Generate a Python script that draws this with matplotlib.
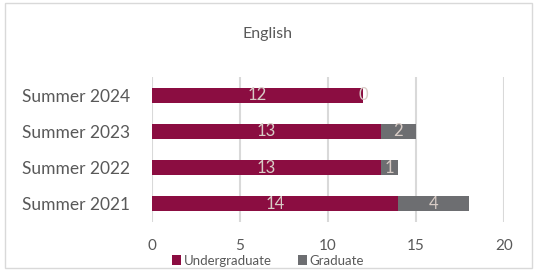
import matplotlib.pyplot as plt
from matplotlib.patches import Rectangle
import numpy as np

plt.rcParams['font.family'] = ['Lato', 'DejaVu Sans']

terms = ['Summer 2021', 'Summer 2022', 'Summer 2023', 'Summer 2024']
undergrad = [14, 13, 13, 12]
graduate = [4, 1, 2, 0]

c_ug = '#8B0D41'
c_gr = '#6D6E71'
lbl = '#D8CCC6'
txt = '#595959'

fig = plt.figure(figsize=(5.36, 2.70), dpi=100)
fig.patches.append(Rectangle((0.009, 0.008), 0.983, 0.98, transform=fig.transFigure,
                             fill=False, edgecolor='#D9D9D9', linewidth=1))
ax = fig.add_axes([0.2836, 0.1778, 0.6567, 0.537])

y = np.arange(len(terms))
b1 = ax.barh(y, undergrad, height=0.41, color=c_ug, zorder=3)
b2 = ax.barh(y, graduate, left=undergrad, height=0.41, color=c_gr, zorder=3)
ax.bar_label(b1, label_type='center', color=lbl, fontsize=12)
ax.bar_label(b2, label_type='center', color=lbl, fontsize=12)

ax.set_xlim(0, 20)
ax.set_ylim(-0.5, 3.5)
ax.set_xticks([0, 5, 10, 15, 20])
ax.set_yticks(y)
ax.set_yticklabels(terms)
ax.tick_params(axis='y', length=0, labelsize=12.5, labelcolor=txt, pad=16)
ax.tick_params(axis='x', length=0, labelsize=11, labelcolor=txt, pad=12)
ax.grid(axis='x', color='#D9D9D9', linewidth=1.5, zorder=0)
for s in ax.spines.values():
    s.set_visible(False)

fig.text(0.5, 0.875, 'English', ha='center', va='center', fontsize=11.5, color=txt)
fig.legend([b1, b2], ['Undergraduate', 'Graduate'], loc='center', bbox_to_anchor=(0.5, 0.035),
           ncol=2, frameon=False, fontsize=9.5, labelcolor=txt, handlelength=0.7,
           handleheight=0.7, handletextpad=0.2, columnspacing=2.0)

plt.savefig('out.png')
